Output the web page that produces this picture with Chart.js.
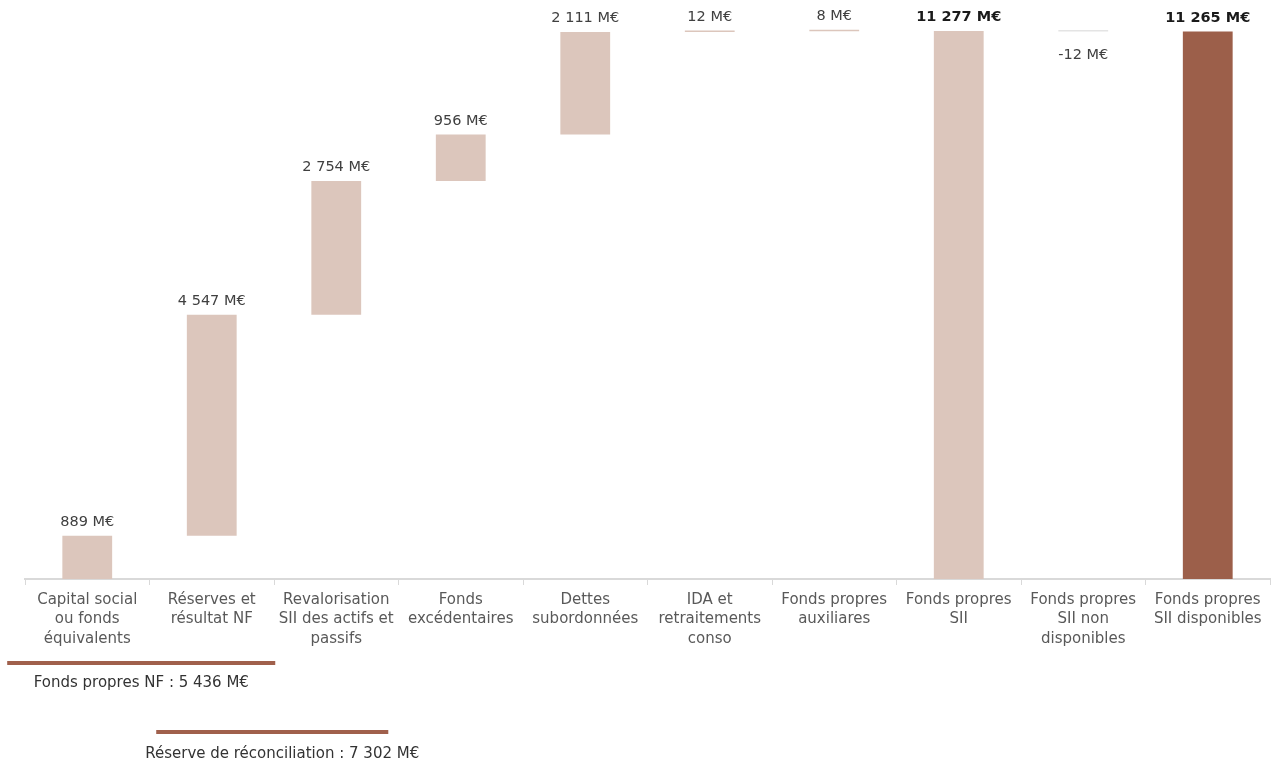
<!DOCTYPE html>
<html><head><meta charset="utf-8">
<script src="https://cdn.jsdelivr.net/npm/chart.js@4"></script>
<style>html,body{margin:0;padding:0;background:#fff;overflow:hidden}#wrap{width:1276px;height:767px;position:relative}</style>
</head><body><div id="wrap"><canvas id="c"></canvas></div>
<script>
const categories = [["Capital social","ou fonds","équivalents"],["Réserves et","résultat NF"],["Revalorisation","SII des actifs et","passifs"],["Fonds","excédentaires"],["Dettes","subordonnées"],["IDA et","retraitements","conso"],["Fonds propres","auxiliares"],["Fonds propres","SII"],["Fonds propres","SII non","disponibles"],["Fonds propres","SII disponibles"]];
const values = [889, 4547, 2754, 956, 2111, 12, 8, 11277, -12, 11265];
const isTotal = [false,false,false,false,false,false,false,true,false,true];
const barColors = ["#dcc6bc","#dcc6bc","#dcc6bc","#dcc6bc","#dcc6bc","#dcc6bc","#dcc6bc","#dcc6bc","#e4e4e4","#9c5f4a"];
const bracketLabels = ["Fonds propres NF : 5 436 M€", "Réserve de réconciliation : 7 302 M€"];
const bracketFrom = [-0.643, 0.554];
const bracketTo = [1.51, 2.418];
const bracketTextAt = [0.434, 1.566];

let run = 0;
const ranges = values.map((v, i) => {
  if (isTotal[i]) { run = v; return [0, v]; }
  const s = run; run += v; return [s, run];
});
function fmt(v) {
  const s = Math.abs(v).toString().replace(/\B(?=(\d{3})+(?!\d))/g, ' ');
  return (v < 0 ? '-' : '') + s + ' M€';
}
const FONT = "'DejaVu Sans', sans-serif";

const labelPlugin = {
  id: 'vlabels',
  afterDatasetsDraw(chart) {
    const ctx = chart.ctx;
    const meta = chart.getDatasetMeta(0);
    ctx.save();
    ctx.textAlign = 'center';
    meta.data.forEach((el, i) => {
      const v = values[i];
      ctx.font = (isTotal[i] ? 'bold ' : '') + '14.5px ' + FONT;
      ctx.fillStyle = isTotal[i] ? '#1a1a1a' : '#404040';
      const top = Math.min(el.y, el.base), bot = Math.max(el.y, el.base);
      if (v >= 0) {
        ctx.textBaseline = 'bottom';
        ctx.fillText(fmt(v), el.x, top - 6);
      } else {
        ctx.textBaseline = 'middle';
        ctx.fillText(fmt(v), el.x, bot + 24);
      }
    });
    ctx.restore();
  },
  afterDraw(chart) {
    const ctx = chart.ctx, xs = chart.scales.x, b = chart.chartArea.bottom;
    ctx.save();
    const lineY = [b + 84, b + 153], textY = [b + 104, b + 175];
    bracketLabels.forEach((t, i) => {
      ctx.strokeStyle = '#a0604c';
      ctx.lineWidth = 4;
      ctx.beginPath();
      ctx.moveTo(xs.getPixelForValue(bracketFrom[i]), lineY[i]);
      ctx.lineTo(xs.getPixelForValue(bracketTo[i]), lineY[i]);
      ctx.stroke();
      ctx.font = '15px ' + FONT;
      ctx.fillStyle = '#333333';
      ctx.textAlign = 'center';
      ctx.textBaseline = 'middle';
      ctx.fillText(t, xs.getPixelForValue(bracketTextAt[i]), textY[i]);
    });
    ctx.restore();
  }
};

new Chart(document.getElementById('c'), {
  type: 'bar',
  data: {
    labels: categories,
    datasets: [{
      data: ranges,
      backgroundColor: barColors,
      borderWidth: 0,
      barPercentage: 0.5,
      categoryPercentage: 0.8,
      minBarLength: 1.5
    }]
  },
  options: {
    responsive: true,
    maintainAspectRatio: false,
    animation: false,
    layout: { padding: { left: 25, right: 6, top: 0, bottom: 0 } },
    plugins: { legend: { display: false }, tooltip: { enabled: false } },
    scales: {
      x: {
        afterFit(scale) { scale.height = 188; },
        grid: { display: true, drawOnChartArea: false, drawTicks: true, tickLength: 6, color: '#d9d9d9', offset: true },
        border: { display: true, color: '#d9d9d9', width: 2 },
        ticks: { color: '#595959', font: { family: FONT, size: 15, lineHeight: 1.27 }, padding: 6, maxRotation: 0, autoSkip: false }
      },
      y: { display: false, min: 0, max: 11914 }
    }
  },
  plugins: [labelPlugin]
});
</script></body></html>
